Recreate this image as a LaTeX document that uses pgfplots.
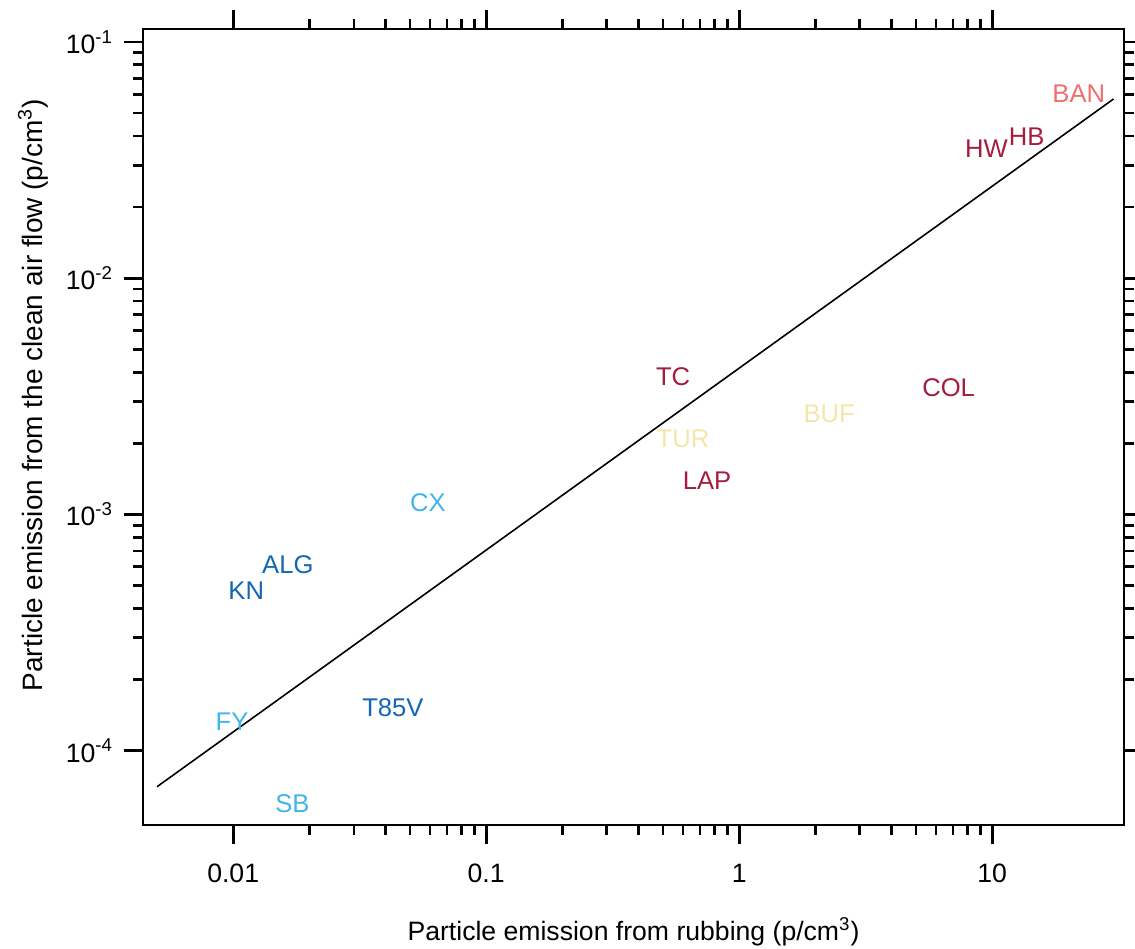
\documentclass[border=0pt]{standalone}
\usepackage{fontspec}
\setmainfont{Liberation Sans}
\usepackage{pgfplots}
\pgfplotsset{compat=1.18}
\definecolor{cban}{HTML}{EF6F6C}
\definecolor{cred}{HTML}{A51D3E}
\definecolor{cyel}{HTML}{F3E6AA}
\definecolor{clb}{HTML}{3FB5EA}
\definecolor{cdb}{HTML}{1266B2}
\begin{document}
\begin{tikzpicture}
\begin{axis}[
  every axis/.append style={line width=1.4pt},
  xmode=log, ymode=log,
  scale only axis, width=490.5pt, height=398pt,
  xmin=0.0044, xmax=33.2, ymin=4.84e-5, ymax=0.1135,
  xtick={0.01,0.1,1,10}, xticklabels={0.01,0.1,1,10},
  ytick={1e-4,1e-3,1e-2,1e-1},
  yticklabels={10\textsuperscript{-4},10\textsuperscript{-3},10\textsuperscript{-2},10\textsuperscript{-1}},
  tick align=outside,
  major tick length=9.5pt, minor tick length=5pt,
  axis line style={line width=1.4pt},
  tick style={line width=1.4pt, black},
  major tick style={line width=1.4pt, black},
  minor tick style={line width=1.4pt, black},
  tick label style={font=\fontsize{13.3}{15}\selectfont},
  xticklabel style={yshift=-6pt},
  yticklabel style={xshift=-1.5pt},
  xlabel={Particle emission from rubbing (p/cm\textsuperscript{3})},
  ylabel={Particle emission from the clean air flow (p/cm\textsuperscript{3})},
  xlabel style={font=\fontsize{13.3}{15}\selectfont, at={(axis description cs:0.5,-0.1344)}, anchor=center},
  ylabel style={font=\fontsize{14}{16}\selectfont, at={(axis description cs:-0.1121,0.540)}, anchor=center},
  clip=false,
  nodes near coords, point meta=explicit symbolic,
]
\addplot[black, line width=0.8pt, no marks, nodes near coords=] coordinates {(0.005,7.03e-5) (30.2,0.0574)};
\addplot[only marks, mark=none, nodes near coords style={anchor=center, text=cban, font=\fontsize{12.8}{14}\selectfont}] table[meta=label] {
x y label
22.0 0.0607 BAN
};
\addplot[only marks, mark=none, nodes near coords style={anchor=center, text=cred, font=\fontsize{12.8}{14}\selectfont}] table[meta=label] {
x y label
13.7 0.0397 HB
9.5 0.0353 HW
0.548 0.00384 TC
6.73 0.00345 COL
0.746 0.00139 LAP
};
\addplot[only marks, mark=none, nodes near coords style={anchor=center, text=cyel, font=\fontsize{12.8}{14}\selectfont}] table[meta=label] {
x y label
2.27 0.00267 BUF
0.600 0.00208 TUR
};
\addplot[only marks, mark=none, nodes near coords style={anchor=center, text=clb, font=\fontsize{12.8}{14}\selectfont}] table[meta=label] {
x y label
0.0589 0.001125 CX
0.0099 0.000132 FY
0.01713 5.94e-5 SB
};
\addplot[only marks, mark=none, nodes near coords style={anchor=center, text=cdb, font=\fontsize{12.8}{14}\selectfont}] table[meta=label] {
x y label
0.01644 0.000614 ALG
0.01126 0.000474 KN
0.0428 0.000152 T85V
};
\end{axis}
\pgfresetboundingbox
\path[use as bounding box] ([shift={(-71.5pt,-62pt)}]current axis.south west) rectangle ([shift={(5.5pt,14.5pt)}]current axis.north east);
\end{tikzpicture}
\end{document}
